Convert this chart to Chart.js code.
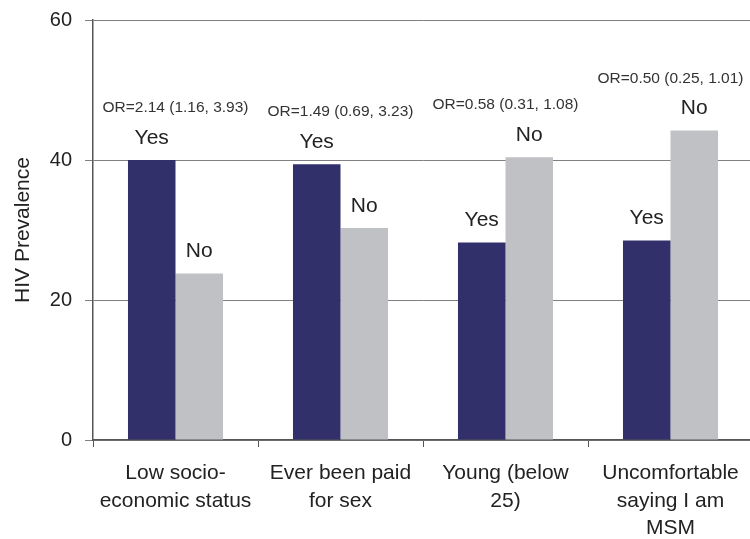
<!DOCTYPE html>
<html>
<head>
<meta charset="utf-8">
<script src="https://cdn.jsdelivr.net/npm/chart.js@4"></script>
<style>
  html, body { margin: 0; padding: 0; background: #fff; overflow: hidden; }
  #wrap { width: 760px; height: 544px; margin-top: -5px; }
</style>
</head>
<body>
<div id="wrap"><canvas id="chart" width="760" height="544"></canvas></div>
<script>
const categories = [
    ['Low socio-', 'economic status'],
    ['Ever been paid', 'for sex'],
    ['Young (below', '25)'],
    ['Uncomfortable', 'saying I am', 'MSM']
];
const yesValues = [40.0, 39.4, 28.2, 28.5];
const noValues = [23.8, 30.3, 40.4, 44.2];
const oddsRatios = [
    'OR=2.14 (1.16, 3.93)',
    'OR=1.49 (0.69, 3.23)',
    'OR=0.58 (0.31, 1.08)',
    'OR=0.50 (0.25, 1.01)'
];
const yTicks = [0, 20, 40, 60];

const FONT = 'Liberation Sans, Arial, sans-serif';

// draws Yes/No above each bar and the odds ratio above each group
const barLabels = {
    id: 'barLabels',
    afterDatasetsDraw(chart) {
        const ctx = chart.ctx;
        ctx.save();
        ctx.textAlign = 'center';
        ctx.textBaseline = 'middle';
        ctx.fillStyle = '#222';
        ctx.font = '21px ' + FONT;
        chart.data.datasets.forEach((ds, di) => {
            chart.getDatasetMeta(di).data.forEach(bar => {
                ctx.fillText(ds.label, bar.x, bar.y - 22);
            });
        });
        ctx.font = '15.5px ' + FONT;
        ctx.fillStyle = '#333';
        const xScale = chart.scales.x;
        oddsRatios.forEach((txt, i) => {
            const top = Math.min(
                chart.getDatasetMeta(0).data[i].y,
                chart.getDatasetMeta(1).data[i].y
            );
            ctx.fillText(txt, xScale.getPixelForValue(i), top - 52);
        });
        ctx.restore();
    }
};

new Chart(document.getElementById('chart').getContext('2d'), {
    type: 'bar',
    data: {
        labels: categories,
        datasets: [
            {
                label: 'Yes',
                data: yesValues,
                backgroundColor: '#32306b',
                categoryPercentage: 0.576,
                barPercentage: 1
            },
            {
                label: 'No',
                data: noValues,
                backgroundColor: '#c0c1c4',
                categoryPercentage: 0.576,
                barPercentage: 1
            }
        ]
    },
    options: {
        responsive: false,
        animation: false,
        devicePixelRatio: 1,
        layout: { padding: { top: 17, right: 7, left: 0, bottom: 0 } },
        plugins: {
            legend: { display: false },
            tooltip: { enabled: false }
        },
        scales: {
            x: {
                grid: {
                    drawOnChartArea: false,
                    drawTicks: true,
                    tickLength: 7,
                    color: '#555'
                },
                border: { color: '#555', width: 1.5 },
                ticks: {
                    color: '#222',
                    padding: 13,
                    maxRotation: 0,
                    autoSkip: false,
                    font: { family: FONT, size: 21, lineHeight: 1.3 }
                },
                afterFit(scale) { scale.height = 99; }
            },
            y: {
                min: 0,
                max: 60,
                afterBuildTicks(scale) {
                    scale.ticks = yTicks.map(v => ({ value: v }));
                },
                grid: {
                    color: '#808080',
                    lineWidth: 1,
                    tickLength: 8
                },
                border: { color: '#555', width: 1.5 },
                ticks: {
                    color: '#222',
                    padding: 13,
                    font: { family: FONT, size: 20 }
                },
                title: {
                    display: true,
                    text: 'HIV Prevalence',
                    color: '#222',
                    padding: { top: 11, bottom: 0 },
                    font: { family: FONT, size: 21 }
                },
                afterFit(scale) { scale.width = 93; }
            }
        }
    },
    plugins: [barLabels]
});
</script>
</body>
</html>
